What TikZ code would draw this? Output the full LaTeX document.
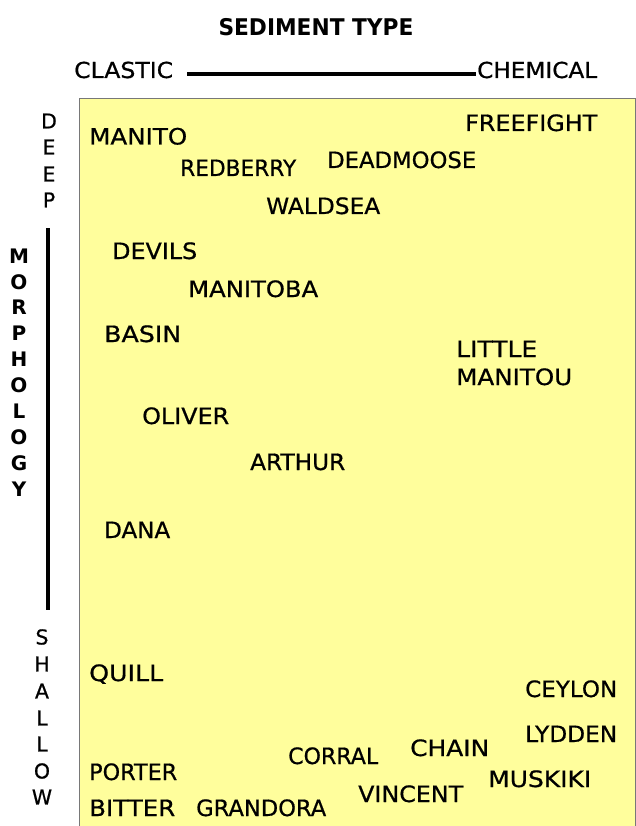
\documentclass[tikz,border=0pt]{standalone}
\usepackage{fontspec}
\setmainfont{DejaVu Sans}
\newfontfamily\lakefont{DejaVu Sans}[FakeBold=0.7]
\usepackage{graphicx}
\definecolor{boxyellow}{RGB}{255,254,156}
\definecolor{boxedge}{RGB}{120,120,120}
\newcommand\fitlbl[2]{\resizebox{#1pt}{\height}{#2}}
\tikzset{
  lake/.style={anchor=base west, inner sep=0pt, font=\lakefont\fontsize{22.5}{22.5}\selectfont},
  axislbl/.style={anchor=base west, inner sep=0pt, font=\lakefont\fontsize{22}{22}\selectfont},
  vletter/.style={anchor=center, inner sep=0pt, font=\lakefont\fontsize{20.5}{20.5}\selectfont},
  vbold/.style={anchor=center, inner sep=0pt, font=\bfseries\fontsize{20}{20}\selectfont},
  axisbar/.style={line width=4pt, black},
}
\begin{document}
\begin{tikzpicture}[x=1pt,y=-1pt]
\useasboundingbox (0,0) rectangle (636,826);
\fill[white] (0,0) rectangle (636,826);
% plot area
\draw[fill=boxyellow, draw=boxedge, line width=1pt] (79,99) rectangle (635.5,830);
% title
\node[anchor=center, inner sep=0pt, font=\bfseries\fontsize{23}{23}\selectfont] (title) at (316,27) {\fitlbl{195}{SEDIMENT TYPE}};
% horizontal axis
\node[axislbl] (clastic) at (74,78) {\fitlbl{99}{CLASTIC}};
\node[axislbl] (chemical) at (477,78) {\fitlbl{120}{CHEMICAL}};
\coordinate (hbarL) at (187,74.5);
\coordinate (hbarR) at (476,74.5);
\draw[axisbar] (hbarL) -- (hbarR);
% vertical axis
\node[vletter] (d1) at (49,121) {D};
\node[vletter] (d2) at (49,147) {E};
\node[vletter] (d3) at (49,174) {E};
\node[vletter] (d4) at (49,200) {P};
\coordinate (vbarT) at (48,228);
\coordinate (vbarB) at (48,610);
\draw[axisbar] (vbarT) -- (vbarB);
\node[vbold] (m1) at (19,256) {M};
\node[vbold] (m2) at (19,282) {O};
\node[vbold] (m3) at (19,307) {R};
\node[vbold] (m4) at (19,333) {P};
\node[vbold] (m5) at (19,359) {H};
\node[vbold] (m6) at (19,385) {O};
\node[vbold] (m7) at (19,411) {L};
\node[vbold] (m8) at (19,437) {O};
\node[vbold] (m9) at (19,463) {G};
\node[vbold] (m10) at (19,489) {Y};
\node[vletter] (s1) at (42,637) {S};
\node[vletter] (s2) at (42,664) {H};
\node[vletter] (s3) at (42,691) {A};
\node[vletter] (s4) at (42,718) {L};
\node[vletter] (s5) at (42,744) {L};
\node[vletter] (s6) at (42,771) {O};
\node[vletter] (s7) at (42,797) {W};
% lakes
\node[lake] (freefight) at (465,131) {\fitlbl{132}{FREEFIGHT}};
\node[lake] (manito) at (89,144.5) {\fitlbl{98}{MANITO}};
\node[lake] (redberry) at (180,176) {\fitlbl{116}{REDBERRY}};
\node[lake] (deadmoose) at (327,168) {\fitlbl{149}{DEADMOOSE}};
\node[lake] (waldsea) at (266,214) {\fitlbl{114}{WALDSEA}};
\node[lake] (devils) at (112,259) {\fitlbl{85}{DEVILS}};
\node[lake] (manitoba) at (188,297) {\fitlbl{130}{MANITOBA}};
\node[lake] (basin) at (104,342) {\fitlbl{77}{BASIN}};
\node[lake] (little) at (456,357) {\fitlbl{81}{LITTLE}};
\node[lake] (manitou) at (456,385) {\fitlbl{116}{MANITOU}};
\node[lake] (oliver) at (142,424) {\fitlbl{87}{OLIVER}};
\node[lake] (arthur) at (250,470) {\fitlbl{95}{ARTHUR}};
\node[lake] (dana) at (104,538) {\fitlbl{66}{DANA}};
\node[lake] (quill) at (89,681) {\fitlbl{74}{QUILL}};
\node[lake] (ceylon) at (525,697) {\fitlbl{92}{CEYLON}};
\node[lake] (lydden) at (525,742) {\fitlbl{92}{LYDDEN}};
\node[lake] (chain) at (410,756) {\fitlbl{79}{CHAIN}};
\node[lake] (corral) at (288,764) {\fitlbl{90}{CORRAL}};
\node[lake] (muskiki) at (488,787) {\fitlbl{103}{MUSKIKI}};
\node[lake] (porter) at (89,780) {\fitlbl{88}{PORTER}};
\node[lake] (vincent) at (358,802) {\fitlbl{105}{VINCENT}};
\node[lake] (bitter) at (89,816) {\fitlbl{86}{BITTER}};
\node[lake] (grandora) at (196,816) {\fitlbl{130}{GRANDORA}};
\end{tikzpicture}
\end{document}
